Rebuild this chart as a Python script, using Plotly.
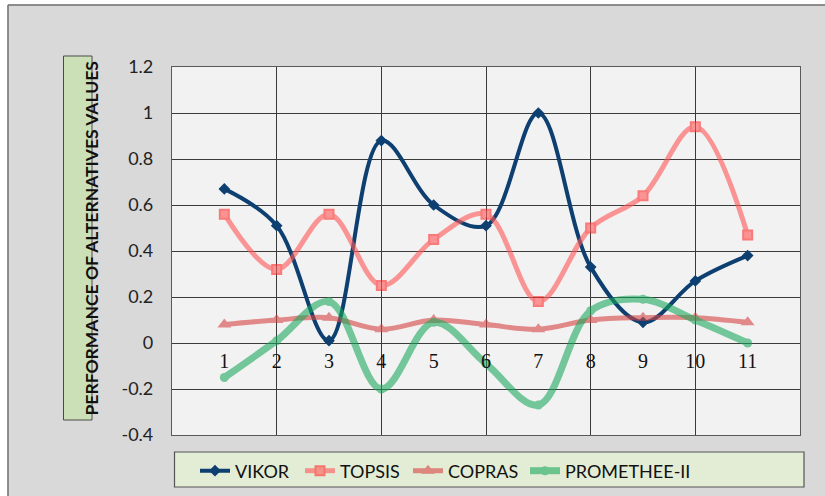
import plotly.graph_objects as go

# Alternatives 1..11 and the normalised performance of each MCDM method
alternatives = list(range(1, 12))
vikor = [0.67, 0.51, 0.01, 0.88, 0.60, 0.51, 1.00, 0.33, 0.09, 0.27, 0.38]
topsis = [0.56, 0.32, 0.56, 0.25, 0.45, 0.56, 0.18, 0.50, 0.64, 0.94, 0.47]
copras = [0.08, 0.10, 0.11, 0.06, 0.10, 0.08, 0.06, 0.10, 0.11, 0.11, 0.09]
promethee = [-0.15, 0.01, 0.18, -0.20, 0.09, -0.09, -0.27, 0.14, 0.19, 0.10, 0.00]
y_ticks = [-0.4, -0.2, 0, 0.2, 0.4, 0.6, 0.8, 1, 1.2]
y_tick_text = ["-0.4", "-0.2", "0", "0.2", "0.4", "0.6", "0.8", "1", "1.2"]

W, H = 825, 496
L, R, T, B = 172, 25, 67, 61
PW, PH = W - L - R, H - T - B


def px(xp):
    return (xp - L) / PW


def py(yp):
    return (H - B - yp) / PH


fig = go.Figure()

# name, values, line, marker, opacity, legend id, legend left edge (px)
series = [
    ("VIKOR", vikor, dict(color="#0d3f70", width=4), dict(symbol="diamond", size=9), 1.0,
     "legend", 195),
    ("TOPSIS", topsis, dict(color="#ff5a5a", width=5), dict(symbol="square", size=9,
                                                               line=dict(color="#ff3030", width=2)), 0.62,
     "legend2", 300),
    ("COPRAS", copras, dict(color="#d64545", width=5), dict(symbol="triangle-up", size=12), 0.6,
     "legend3", 408),
    ("PROMETHEE-II", promethee, dict(color="#17a85a", width=7), dict(symbol="circle", size=9), 0.58,
     "legend4", 525),
]
legend_style = dict(orientation="h", xanchor="left", y=py(471), yanchor="middle",
                    bgcolor="rgba(0,0,0,0)", borderwidth=0, itemwidth=30,
                    font=dict(family="Lato", size=18, color="#111111"))
legends = {}
for name, vals, line, marker, op, leg, lx in series:
    fig.add_trace(go.Scatter(
        x=alternatives, y=vals, name=name, mode="lines+markers",
        line=dict(shape="spline", smoothing=1.0, **line),
        marker=dict(color=line["color"], **marker),
        opacity=op, legend=leg,
    ))
    legends[leg] = dict(legend_style, x=px(lx))

# Category labels sit along the zero line
fig.add_trace(go.Scatter(x=[alternatives[0]], y=[None], xaxis="x2", showlegend=False,
                         hoverinfo="skip"))

shapes = [
    # white margin outside the chart frame
    dict(type="rect", xref="paper", yref="paper", x0=px(-5), x1=px(7.5), y0=py(510), y1=py(-5),
         fillcolor="white", line=dict(width=0), layer="below"),
    dict(type="rect", xref="paper", yref="paper", x0=px(-5), x1=px(840), y0=py(4.5), y1=py(-5),
         fillcolor="white", line=dict(width=0), layer="below"),
    dict(type="line", xref="paper", yref="paper", x0=px(8), x1=px(8), y0=py(5), y1=py(510),
         line=dict(color="#6f6f6f", width=1.5)),
    dict(type="line", xref="paper", yref="paper", x0=px(8), x1=px(840), y0=py(5), y1=py(5),
         line=dict(color="#6f6f6f", width=1.5)),
    # axis title box
    dict(type="rect", xref="paper", yref="paper", x0=px(63.5), x1=px(92), y0=py(420), y1=py(56),
         fillcolor="#cbe0b6", line=dict(color="#4a4a4a", width=1)),
    # legend box
    dict(type="rect", xref="paper", yref="paper", x0=px(174.5), x1=px(804), y0=py(487), y1=py(452),
         fillcolor="#e3ecd5", line=dict(color="#555555", width=1.2)),
]

fig.update_layout(
    width=W, height=H,
    margin=dict(l=L, r=R, t=T, b=B, autoexpand=False),
    paper_bgcolor="#d9d9d9",
    plot_bgcolor="#f2f2f2",
    shapes=shapes,
    showlegend=True,
    annotations=[dict(text="<b>PERFORMANCE OF ALTERNATIVES VALUES</b>", xref="paper", yref="paper",
                      x=px(78), y=py(239), textangle=-90, showarrow=False,
                      font=dict(family="Lato", size=17.5, color="#111111"))],
    xaxis=dict(range=[0, 12], tickvals=[0, 2, 4, 6, 8, 10, 12], showticklabels=False,
               showgrid=True, gridcolor="#3a3a3a", gridwidth=1, zeroline=False,
               showline=True, mirror=True, linecolor="#5a5a5a", linewidth=1.2),
    xaxis2=dict(overlaying="x", anchor="free", position=0.25, side="bottom", range=[0, 12],
                tickvals=alternatives, ticktext=[str(a) for a in alternatives],
                showgrid=False, zeroline=False, showline=False, ticks="",
                ticklabelstandoff=4,
                tickfont=dict(family="Liberation Serif", size=20, color="#111111")),
    yaxis=dict(range=[-0.4, 1.2], tickvals=y_ticks, ticktext=y_tick_text,
               showgrid=True, gridcolor="#3a3a3a", gridwidth=1, zeroline=False,
               showline=True, mirror=True, linecolor="#5a5a5a", linewidth=1.2,
               ticks="", ticklabelstandoff=14,
               tickfont=dict(family="Lato", size=18, color="#222222")),
    **legends,
)

fig.write_html("out.html")
